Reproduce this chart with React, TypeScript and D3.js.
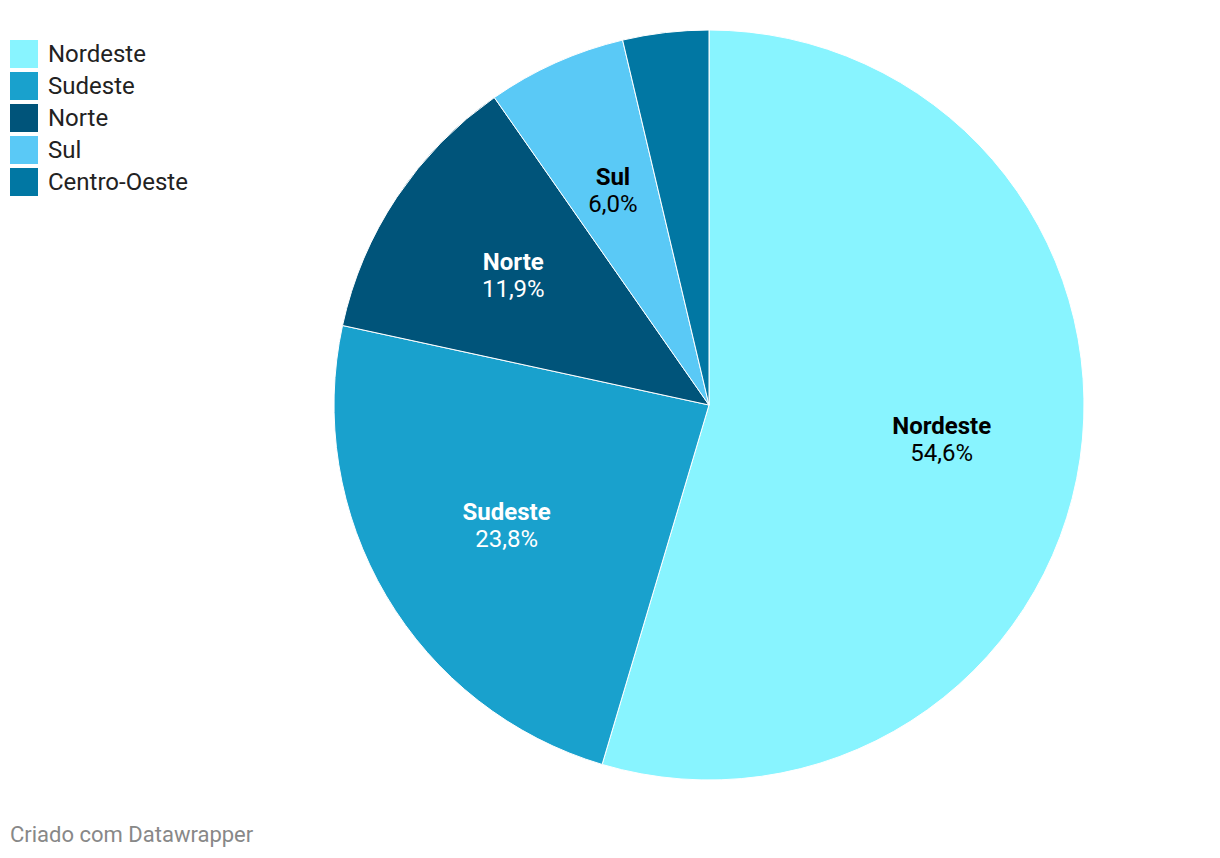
import React from "react";
import * as d3 from "d3";

const categories = ["Nordeste", "Sudeste", "Norte", "Sul", "Centro-Oeste"];
const values = [54.6, 23.8, 11.9, 6.0, 3.7];
const colors = ["#88f4ff", "#19a1cd", "#00547a", "#5ac9f6", "#0177a3"];
const labelColors = ["#000", "#fff", "#fff", "#000", "#fff"];
const showLabel = [true, true, true, true, false];

const W = 1220;
const H = 858;
const cx = 709;
const cy = 405;
const R = 375;

export default function App() {
  const data = categories.map((c, i) => ({ c, v: values[i], i }));
  const pie = d3.pie<any>().value((d) => d.v).sort(null);
  const arcs = pie(data);
  const arc = d3.arc<any>().innerRadius(0).outerRadius(R);
  const labelArc = d3.arc<any>().innerRadius(R * 0.627).outerRadius(R * 0.627);
  const fmt = (v: number) => v.toFixed(1).replace(".", ",") + "%";

  return (
    <svg
      width={W}
      height={H}
      style={{ position: "absolute", left: 0, top: 0, fontFamily: "Roboto, sans-serif" }}
    >
      <rect width={W} height={H} fill="#fff" />
      <g transform={`translate(${cx},${cy})`}>
        {arcs.map((a, i) => (
          <path key={i} d={arc(a) || ""} fill={colors[i]} stroke="#fff" strokeWidth={1} />
        ))}
        {arcs.map((a, i) => {
          if (!showLabel[i]) return null;
          const [x, y] = labelArc.centroid(a);
          return (
            <g key={"l" + i} transform={`translate(${x},${y})`} fill={labelColors[i]} textAnchor="middle" fontSize={24}>
              <text y={-13} dominantBaseline="central" fontWeight="bold">
                {categories[i]}
              </text>
              <text y={14} dominantBaseline="central">
                {fmt(values[i])}
              </text>
            </g>
          );
        })}
      </g>
      <g>
        {categories.map((c, i) => (
          <g key={c} transform={`translate(10,${40 + i * 32})`}>
            <rect width={28} height={28} fill={colors[i]} />
            <text x={38} y={14} dominantBaseline="central" fontSize={24} fill="#222">
              {c}
            </text>
          </g>
        ))}
      </g>
      <text x={10} y={834} dominantBaseline="central" fontSize={22} fill="#888">
        Criado com Datawrapper
      </text>
    </svg>
  );
}
